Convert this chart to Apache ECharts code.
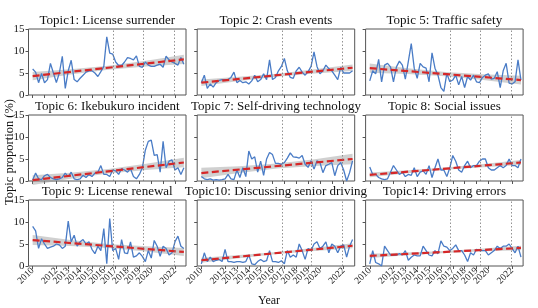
<!DOCTYPE html>
<html>
<head>
<meta charset="utf-8">
<script src="https://cdn.jsdelivr.net/npm/echarts@6/dist/echarts.min.js"></script>
<style>html,body{margin:0;padding:0;background:#fff}#c{width:538px;height:308px}</style>
</head>
<body>
<div id="c"></div>
<script>
const titles = ['Topic1: License surrender', 'Topic 2: Crash events', 'Topic 5: Traffic safety',
  'Topic 6: Ikebukuro incident', 'Topic 7: Self-driving technology', 'Topic 8: Social issues',
  'Topic 9: License renewal', 'Topic10: Discussing senior driving', 'Topic14: Driving errors'];

const quarters = [2010,2010.25,2010.5,2010.75,2011,2011.25,2011.5,2011.75,2012,2012.25,2012.5,2012.75,
  2013,2013.25,2013.5,2013.75,2014,2014.25,2014.5,2014.75,2015,2015.25,2015.5,2015.75,
  2016,2016.25,2016.5,2016.75,2017,2017.25,2017.5,2017.75,2018,2018.25,2018.5,2018.75,
  2019,2019.25,2019.5,2019.75,2020,2020.25,2020.5,2020.75,2021,2021.25,2021.5,2021.75,
  2022,2022.25,2022.5,2022.75];

const yearTicks = [2010,2011,2012,2013,2014,2015,2016,2017,2018,2019,2020,2021,2022];
const yTicks = [0,5,10,15];
const events = [2016.8, 2019.3, 2021.9];

const t1 = [5.9,5.2,2.8,4.9,2.8,3.5,7.2,5.0,2.8,5.0, 8.8,1.5,5.5,7.9,3.5,3.0,3.8,4.5,5.2,5.5,
  5.5,5.0,4.2,5.3,6.5,13.2,9.5,9.3,7.5,6.7, 6.7,7.5,8.5,8.3,8.0,8.9,6.5,6.3,7.5,6.8,
  6.5,6.5,6.8,7.0,6.3,8.8,8.0,7.5,7.2,6.8, 8.5,7.0];
const t2 = [2.8,4.5,1.5,2.5,1.8,2.8,3.3,3.5,3.5,3.5, 4.0,5.2,2.8,3.3,2.8,3.0,2.5,3.2,4.5,3.0,
  3.5,4.8,3.5,8.0,3.5,4.0,5.5,6.5,8.3,5.5, 4.0,3.8,5.5,6.3,5.2,4.5,5.3,6.5,9.8,6.5,
  4.8,5.5,6.8,6.0,5.5,4.5,3.5,6.3,5.0,5.0, 5.0,5.5];
const t5 = [3.2,5.5,4.8,8.1,3.0,6.8,7.2,6.4,3.0,6.4, 7.7,6.8,3.6,7.6,11.7,6.1,3.8,7.2,6.4,6.1,
  3.0,9.6,6.1,4.5,1.7,0.8,4.9,3.0,3.4,4.5, 2.3,4.2,1.7,4.2,3.4,4.5,3.0,2.8,4.0,4.5,
  4.8,3.6,3.8,5.3,1.7,5.5,7.2,2.7,2.5,3.0, 8.0,3.4];
const t6 = [0.2,1.8,0.5,0.3,1.2,1.5,0.8,0.5,0.3,0.5, 0.8,1.8,1.0,2.0,0.5,0.3,0.5,1.3,0.8,1.5,
  1.0,1.8,2.0,3.5,1.5,1.5,1.0,2.5,2.3,1.5, 2.8,2.5,2.0,2.8,1.0,0.5,1.5,3.0,7.0,9.0,
  9.3,5.8,6.0,2.0,9.0,3.0,4.5,4.8,2.5,3.0, 1.5,3.0];
const t7 = [1.0,0.5,0.3,0.5,0.2,0.3,0.2,0.3,0.5,1.5, 0.5,0.3,2.5,0.8,3.0,1.0,6.8,5.0,5.5,2.0,
  4.5,1.3,5.0,6.5,6.0,4.0,4.0,3.8,4.2,5.2, 6.4,5.5,5.4,5.2,5.8,3.8,3.1,4.6,2.7,4.6,
  4.2,1.9,3.5,3.8,4.2,1.2,3.5,4.2,2.5,0.0, 1.9,4.6];
const t8 = [3.2,1.5,1.5,0.8,0.5,0.3,0.5,2.0,3.5,2.5, 1.5,2.0,1.0,1.5,1.3,3.0,1.0,2.0,2.3,1.5,
  3.5,0.8,3.0,5.0,2.5,2.5,1.0,3.0,5.8,4.5, 2.5,2.0,3.5,4.5,3.0,3.5,3.5,4.5,5.0,5.0,
  3.0,2.5,2.5,3.0,3.5,3.0,3.5,5.0,3.5,3.5, 3.0,5.0];
const t9 = [9.0,8.0,4.0,6.2,5.0,4.0,4.3,4.5,5.0,4.8, 4.0,4.5,10.2,5.5,7.0,4.5,5.5,6.0,5.0,5.5,
  3.8,2.8,4.5,3.5,8.5,0.5,10.8,3.5,4.0,1.5, 6.0,3.0,2.8,5.5,2.0,2.3,3.0,2.2,1.0,3.5,
  1.8,5.8,4.5,2.2,4.5,4.0,2.5,3.0,5.5,6.8, 4.5,4.0];
const t10 = [0.5,3.0,1.0,2.0,1.0,1.3,1.5,1.0,3.8,1.0, 1.0,0.8,1.0,1.0,0.8,1.0,2.5,0.5,0.3,1.0,
  1.5,1.0,1.2,3.5,1.0,1.0,0.8,1.2,0.5,3.5, 2.0,2.5,2.0,5.0,3.5,1.5,4.0,3.5,5.0,5.5,
  4.0,4.5,5.5,3.0,5.0,4.5,3.0,4.5,4.8,2.0, 4.5,6.0];
const t14 = [0.5,3.5,0.8,0.5,0.0,4.5,3.5,2.5,2.5,2.5, 2.8,2.5,3.5,1.3,2.0,2.5,2.3,2.3,4.5,3.5,
  2.5,2.3,3.5,2.8,5.7,4.5,4.3,3.5,4.0,4.8, 3.5,3.5,2.5,1.0,3.0,2.5,3.8,3.5,3.5,3.5,
  2.5,3.0,3.5,4.5,4.0,4.5,4.5,5.0,4.0,3.0, 4.5,2.0];

const series = [t1, t2, t5, t6, t7, t8, t9, t10, t14];

// linear trend (value at first and last quarter)
const trendStart = [4.3, 2.8, 6.1, 0.2, 1.8, 1.4, 5.9, 1.3, 2.3];
const trendEnd   = [8.1, 6.2, 3.4, 4.2, 5.0, 4.2, 3.2, 4.6, 4.1];
// half-width of the grey confidence band at 5 positions along the trend
const bandHalf = [
  [0.95,0.61,0.45,0.65,1.05],
  [0.75,0.48,0.35,0.48,0.75],
  [1.05,0.68,0.50,0.66,1.00],
  [1.10,0.70,0.50,0.70,1.10],
  [1.20,0.77,0.55,0.77,1.20],
  [0.55,0.35,0.25,0.35,0.55],
  [1.15,0.69,0.45,0.60,0.90],
  [0.55,0.35,0.25,0.35,0.55],
  [0.50,0.31,0.22,0.31,0.50]
];

const FONT = 'Liberation Serif';
const XMIN = 2009.65, XMAX = 2022.93;
const colLeft = [28.5, 197.2, 365.6];
const colW = 157.5;
const rowTop = [29, 115, 200];
const rowH = 66;
const BLUE = '#4a7cc6', RED = '#d62728', FRAME = '#555';

const grids = [], xAxes = [], yAxes = [], seriesOpt = [], titleOpt = [];
const x0 = quarters[0], x1 = quarters[quarters.length - 1];

for (let i = 0; i < 9; i++) {
  const r = Math.floor(i / 3), c = i % 3;
  grids.push({left: colLeft[c], top: rowTop[r], width: colW, height: rowH,
    show: true, borderColor: FRAME, borderWidth: 1, backgroundColor: 'transparent'});
  xAxes.push({gridIndex: i, type: 'value', min: XMIN, max: XMAX,
    axisLine: {show: false}, splitLine: {show: false},
    axisTick: {show: true, customValues: yearTicks, length: 3, lineStyle: {color: FRAME, width: 1}},
    axisLabel: {show: r === 2, customValues: yearTicks, rotate: 45, margin: 3,
      showMinLabel: true, showMaxLabel: true, hideOverlap: false,
      fontFamily: FONT, fontSize: 9.5, color: '#222', formatter: v => String(Math.round(v))}});
  yAxes.push({gridIndex: i, type: 'value', min: 0, max: 15,
    axisLine: {show: false}, splitLine: {show: false},
    axisTick: {show: true, customValues: yTicks, length: 3, lineStyle: {color: FRAME, width: 1}},
    axisLabel: {show: c === 0, customValues: yTicks, margin: 4, showMinLabel: true, showMaxLabel: true,
      fontFamily: FONT, fontSize: 11, color: '#222'}});
  titleOpt.push({text: titles[i], left: colLeft[c] + colW / 2, top: rowTop[r] - 15, textAlign: 'center',
    padding: 0, textStyle: {fontFamily: FONT, fontSize: 13, fontWeight: 'normal', color: '#111'}});

  const ts = trendStart[i], te = trendEnd[i], bh = bandHalf[i];
  // confidence band
  seriesOpt.push({type: 'custom', xAxisIndex: i, yAxisIndex: i, silent: true, z: 1, data: [0],
    renderItem: (params, api) => {
      const n = bh.length, up = [], lo = [];
      for (let k = 0; k < n; k++) {
        const f = k / (n - 1);
        const x = x0 + (x1 - x0) * f;
        const m = ts + (te - ts) * f;
        up.push(api.coord([x, m + bh[k]]));
        lo.push(api.coord([x, m - bh[k]]));
      }
      return {type: 'polygon', shape: {points: up.concat(lo.reverse())},
        style: {fill: 'rgba(150,150,150,0.45)'}};
    },
    markLine: {silent: true, symbol: ['none', 'none'], label: {show: false}, animation: false,
      lineStyle: {type: [1.5, 2], color: '#777', width: 0.8},
      data: events.map(e => ({xAxis: e}))}
  });
  // data line
  seriesOpt.push({type: 'line', xAxisIndex: i, yAxisIndex: i, z: 3, showSymbol: false, silent: true,
    data: quarters.map((q, k) => [q, series[i][k]]),
    lineStyle: {color: BLUE, width: 1.3}});
  // trend line
  seriesOpt.push({type: 'line', xAxisIndex: i, yAxisIndex: i, z: 4, showSymbol: false, silent: true,
    data: [[x0, ts], [x1, te]],
    lineStyle: {color: RED, width: 2.2, type: [7, 3.5]}});
}

const chart = echarts.init(document.getElementById('c'), null, {renderer: 'canvas'});
chart.setOption({
  animation: false,
  backgroundColor: '#fff',
  title: titleOpt,
  grid: grids,
  xAxis: xAxes,
  yAxis: yAxes,
  series: seriesOpt,
  graphic: [
    {type: 'text', x: 10, y: 152, rotation: Math.PI / 2,
      style: {text: 'Topic proportion (%)', fontFamily: FONT, fontSize: 12.5, fill: '#111',
        align: 'center', verticalAlign: 'middle'}},
    {type: 'text', x: 269, y: 301,
      style: {text: 'Year', fontFamily: FONT, fontSize: 12, fill: '#111',
        align: 'center', verticalAlign: 'middle'}}
  ]
});
</script>
</body>
</html>
